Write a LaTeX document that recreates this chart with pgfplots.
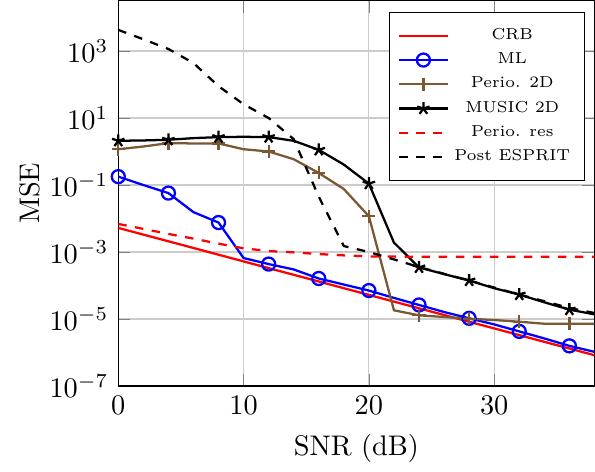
\documentclass[border=0pt]{standalone}
\usepackage{pgfplots}
\pgfplotsset{compat=1.18}
\definecolor{mybrown}{RGB}{122,88,52}
\begin{document}
\begin{tikzpicture}
\begin{axis}[
  scale only axis,
  width=168pt, height=136pt,
  ymode=log,
  xmin=0, xmax=38,
  ymin=1e-7, ymax=3.2e4,
  xtick={0,10,20,30},
  ytick={1e-7,1e-5,1e-3,1e-1,1e1,1e3},
  yminorticks=false,
  grid=major,
  major grid style={gray!40},
  xlabel={SNR (dB)},
  ylabel={MSE},
  ylabel style={yshift=-3.5pt},
  legend cell align=center,
  legend style={font=\fontsize{5.6}{6.5}\selectfont, at={(0.98,0.97)}, anchor=north east,
    inner ysep=3.8pt, nodes={inner ysep=1.6pt}},
  every axis plot/.append style={thick},
  mark size=2.3pt,
]
\addplot[red, no marks] coordinates {
(0,5.25e-3) (2,3.31e-3) (4,2.09e-3) (6,1.32e-3) (8,8.32e-4) (10,5.25e-4)
(12,3.31e-4) (14,2.09e-4) (16,1.32e-4) (18,8.32e-5) (20,5.25e-5) (22,3.31e-5)
(24,2.09e-5) (26,1.32e-5) (28,8.32e-6) (30,5.25e-6) (32,3.31e-6) (34,2.09e-6)
(36,1.32e-6) (38,8.32e-7)};
\addlegendentry{CRB}
\addplot[blue, mark=o, mark repeat=2] coordinates {
(0,0.178) (2,0.1) (4,0.0575) (6,0.0155) (8,7.59e-3) (10,6.61e-4)
(12,4.37e-4) (14,3.02e-4) (16,1.62e-4) (18,1.07e-4) (20,7.08e-5) (22,4.27e-5)
(24,2.63e-5) (26,1.62e-5) (28,1.05e-5) (30,6.92e-6) (32,4.27e-6) (34,2.63e-6)
(36,1.58e-6) (38,1.05e-6)};
\addlegendentry{ML}
\addplot[mybrown, mark=+, mark repeat=2] coordinates {
(0,1.17) (2,1.41) (4,1.78) (6,1.74) (8,1.74) (10,1.17)
(12,1.0) (14,0.589) (16,0.229) (18,0.0759) (20,0.0117) (22,1.82e-5)
(24,1.29e-5) (26,1.15e-5) (28,1.02e-5) (30,9.33e-6) (32,8.32e-6) (34,7.24e-6)
(36,7.24e-6) (38,7.24e-6)};
\addlegendentry{Perio. 2D}
\addplot[black, mark=star, mark repeat=2] coordinates {
(0,2.09) (2,2.14) (4,2.24) (6,2.51) (8,2.69) (10,2.75)
(12,2.69) (14,2.09) (16,1.12) (18,0.407) (20,0.110) (22,1.91e-3)
(24,3.47e-4) (26,2.19e-4) (28,1.41e-4) (30,8.32e-5) (32,5.37e-5) (34,3.16e-5)
(36,1.91e-5) (38,1.38e-5)};
\addlegendentry{MUSIC 2D}
\addplot[red, dashed, no marks] coordinates {
(0,6.9e-3) (2,4.9e-3) (4,3.47e-3) (6,2.51e-3) (8,1.78e-3) (10,1.29e-3)
(12,1.07e-3) (14,9.77e-4) (16,8.71e-4) (18,7.94e-4) (20,7.4e-4) (22,7.3e-4)
(24,7.2e-4) (26,7.2e-4) (28,7.2e-4) (30,7.2e-4) (32,7.2e-4) (34,7.2e-4)
(36,7.2e-4) (38,7.2e-4)};
\addlegendentry{Perio. res}
\addplot[black, dashed, no marks] coordinates {
(0,4266) (2,2239) (4,1148) (6,437) (8,89.1) (10,25.7)
(12,10) (14,2.34) (16,0.0447) (18,1.51e-3) (20,1.0e-3) (22,6.03e-4)
(24,3.55e-4) (26,2.24e-4) (28,1.41e-4) (30,8.71e-5) (32,5.37e-5) (34,3.39e-5)
(36,2.14e-5) (38,1.51e-5)};
\addlegendentry{Post ESPRIT}
\end{axis}
\path ([xshift=-3.5pt]current bounding box.west);
\end{tikzpicture}
\end{document}
